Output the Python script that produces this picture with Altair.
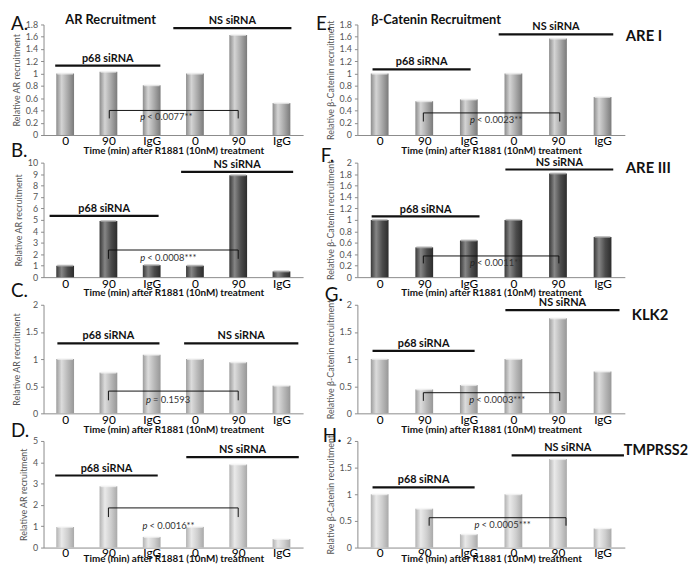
import altair as alt
import pandas as pd

FONT = "Lato"
positions = [1, 2, 3, 4, 5, 6]
tick_labels = ["0", "90", "IgG", "0", "90", "IgG"]
group_names = ["p68 siRNA", "NS siRNA"]
x_title = "Time (min) after R1881 (10nM) treatment"
ar_title = "Relative AR recruitment"
bc_title = "Relative β-Catenin recruitment"

# relative recruitment (p68 siRNA: 0, 90, IgG | NS siRNA: 0, 90, IgG)
ar_A = [1.00, 1.03, 0.81, 1.00, 1.63, 0.52]
ar_B = [1.00, 4.90, 1.05, 1.00, 8.90, 0.50]
ar_C = [1.00, 0.75, 1.08, 1.00, 0.94, 0.51]
ar_D = [0.97, 2.88, 0.50, 0.97, 3.90, 0.40]
bc_E = [1.00, 0.55, 0.58, 1.00, 1.57, 0.62]
bc_F = [1.00, 0.52, 0.64, 1.00, 1.81, 0.70]
bc_G = [1.00, 0.44, 0.52, 1.00, 1.75, 0.77]
bc_H = [1.00, 0.73, 0.25, 1.00, 1.66, 0.36]

ticks_18 = [0, 0.2, 0.4, 0.6, 0.8, 1, 1.2, 1.4, 1.6, 1.8]
ticks_10 = [0, 1, 2, 3, 4, 5, 6, 7, 8, 9, 10]
ticks_2f = [0, 0.2, 0.4, 0.6, 0.8, 1, 1.2, 1.4, 1.6, 1.8, 2]
ticks_2 = [0, 0.5, 1, 1.5, 2]
ticks_5 = [0, 1, 2, 3, 4, 5]

# group over-lines: (height, x from, x to) in data units
p68_line = {"A": (1.13, 0.77, 3.20), "B": (5.35, 0.64, 3.16), "C": (1.29, 0.82, 3.18),
            "D": (3.38, 0.77, 3.14), "E": (1.07, 0.84, 3.04), "F": (1.06, 0.82, 3.24),
            "G": (1.15, 0.84, 3.13), "H": (1.13, 0.84, 3.13)}
ns_line = {"A": (1.74, 3.50, 6.23), "B": (9.20, 3.68, 6.27), "C": (1.29, 3.75, 6.39),
           "D": (4.24, 3.80, 6.40), "E": (1.64, 3.67, 6.24), "F": (1.88, 3.82, 6.24),
           "G": (1.90, 3.82, 6.38), "H": (1.73, 3.96, 6.48)}
# significance brackets: (top, leg bottom, x left, x right)
bracket = {"A": (0.40, 0.27, 2.02, 5.00), "B": (2.37, 1.60, 2.00, 5.00), "C": (0.41, 0.24, 2.00, 5.00),
           "D": (1.86, 1.43, 2.00, 5.00), "E": (0.36, 0.22, 1.98, 5.04), "F": (0.37, 0.24, 1.98, 5.02),
           "G": (0.38, 0.23, 1.98, 5.04), "H": (0.56, 0.41, 2.11, 5.18)}
p_label = {"A": (3.40, 0.30, "< 0.0077**"), "B": (3.45, 1.67, "< 0.0008***"), "C": (3.43, 0.24, "= 0.1593"),
           "D": (3.45, 1.00, "< 0.0016**"), "E": (3.67, 0.24, "< 0.0023**"), "F": (3.67, 0.24, "< 0.0011**"),
           "G": (3.70, 0.24, "< 0.0003***"), "H": (3.82, 0.43, "< 0.0005***")}

styles = {
    "light": (["#8c8c8c", "#d4d4d4", "#a8a8a8", "#7a7a7a"], "#efefef"),
    "dark": (["#383838", "#868686", "#4c4c4c", "#2c2c2c"], "#a8a8a8"),
    "stripe": (["#9c9c9c", "#dcdcdc", "#b8b8b8", "#979797"], "#f2f2f2"),
    "hatch": (["#b2b2b2", "#e9e9e9", "#cecece", "#a9a9a9"], "#f6f6f6"),
}

label_expr = "[" + ",".join("'%s'" % t for t in tick_labels) + "][datum.value - 1]"


def panel(key, vals, ymax, yticks, ytitle, style, w, h, letter_xy, title=None, gene=None, bottom=False):
    xaxis = alt.Axis(values=positions, labelExpr=label_expr, ticks=False, grid=False, title=x_title,
                     titleFont=FONT, titleFontSize=10, titleFontWeight="bold", titleColor="#111",
                     labelFont=FONT, labelFontSize=12, labelColor="#000",
                     labelPadding=0 if bottom else 1, titlePadding=-5 if bottom else -1,
                     domainColor="#8a8a8a")
    yaxis = alt.Axis(values=yticks, format="~r", grid=False, title=ytitle,
                     titleFont=FONT, titleFontSize=9, titleFontWeight="normal", titleColor="#555",
                     labelFont=FONT, labelFontSize=9, labelColor="#555", tickSize=3,
                     tickColor="#8a8a8a", domainColor="#8a8a8a", labelPadding=3, titlePadding=4)
    xs = alt.Scale(domain=[0.5, 6.5], nice=False, zero=False, padding=0)
    ys = alt.Scale(domain=[0, ymax], nice=False, padding=0)

    def X(f):
        return alt.X(f, scale=xs, axis=xaxis)

    def Y(f):
        return alt.Y(f, scale=ys, axis=yaxis)

    stops, cap = styles[style]
    grad = alt.Gradient(gradient="linear", x1=0, x2=1, y1=0, y2=0,
                        stops=[alt.GradientStop(offset=o, color=c) for o, c in zip([0, 0.3, 0.65, 1], stops)])
    bars_df = pd.DataFrame({"pos": positions, "val": vals})
    bars = alt.Chart(bars_df).mark_bar(size=18, color=grad).encode(x=X("pos:Q"), y=Y("val:Q"))
    caps = alt.Chart(bars_df).mark_tick(orient="horizontal", size=16, thickness=2, color=cap).encode(
        x=X("pos:Q"), y=Y("val:Q"))

    pl, nl = p68_line[key], ns_line[key]
    lines_df = pd.DataFrame({"g": group_names, "y": [pl[0], nl[0]], "x1": [pl[1], nl[1]],
                             "x2": [pl[2], nl[2]], "xm": [(pl[1] + pl[2]) / 2, (nl[1] + nl[2]) / 2]})
    glines = alt.Chart(lines_df).mark_rule(strokeWidth=2.2, color="#111").encode(
        x=X("x1:Q"), x2="x2:Q", y=Y("y:Q"))
    glabels = alt.Chart(lines_df).mark_text(font=FONT, fontSize=11, fontWeight="bold", color="#111",
                                            dy=-7, baseline="middle").encode(
        x=X("xm:Q"), y=Y("y:Q"), text="g:N")

    bt, bb, bl, br = bracket[key]
    br_df = pd.DataFrame({"x1": [bl], "x2": [br], "y": [bt]})
    legs_df = pd.DataFrame({"x": [bl, br], "y1": [bt, bt], "y2": [bb, bb]})
    bline = alt.Chart(br_df).mark_rule(strokeWidth=1, color="#111").encode(x=X("x1:Q"), x2="x2:Q", y=Y("y:Q"))
    blegs = alt.Chart(legs_df).mark_rule(strokeWidth=1, color="#111").encode(x=X("x:Q"), y=Y("y1:Q"), y2="y2:Q")

    px, py, ptxt = p_label[key]
    p_df = pd.DataFrame({"x": [px], "y": [py], "p": ["p"], "t": [ptxt]})
    half = len(ptxt) * 2.2
    pmark = alt.Chart(p_df).mark_text(font=FONT, fontSize=9.5, fontStyle="italic", color="#222", align="right",
                                      dx=-half - 2, baseline="middle").encode(x=X("x:Q"), y=Y("y:Q"), text="p:N")
    ptext = alt.Chart(p_df).mark_text(font=FONT, fontSize=9.5, color="#333", align="left",
                                      dx=-half, baseline="middle").encode(x=X("x:Q"), y=Y("y:Q"), text="t:N")

    layers = [bars, caps, glines, glabels, bline, blegs, pmark, ptext]

    let_df = pd.DataFrame({"t": [key + "."]})
    layers.append(alt.Chart(let_df).mark_text(font=FONT, fontSize=19, color="#111", align="left",
                                              baseline="middle").encode(
        x=alt.value(letter_xy[0]), y=alt.value(letter_xy[1]), text="t:N"))
    if title:
        t_df = pd.DataFrame({"t": [title[0]]})
        layers.append(alt.Chart(t_df).mark_text(font=FONT, fontSize=13, fontWeight="bold", color="#111",
                                                align="left", baseline="middle").encode(
            x=alt.value(title[1]), y=alt.value(-4), text="t:N"))
    if gene:
        g_df = pd.DataFrame({"t": [gene[0]]})
        layers.append(alt.Chart(g_df).mark_text(font=FONT, fontSize=gene[3], fontWeight="bold", color="#111",
                                                align="left", baseline="middle").encode(
            x=alt.value(gene[1]), y=alt.value(gene[2]), text="t:N"))
    return alt.layer(*layers).properties(width=w, height=h)


WL, WR = 263, 271
H = [112, 116, 110, 108]

panels = [
    panel("A", ar_A, 1.8, ticks_18, ar_title, "light", WL, H[0], (-33, 0), title=("AR Recruitment", 22)),
    panel("E", bc_E, 1.8, ticks_18, bc_title, "light", WR, H[0], (-42, 0),
          title=("β-Catenin Recruitment", 14), gene=("ARE I", 272, 12, 15)),
    panel("B", ar_B, 10, ticks_10, ar_title, "dark", WL, H[1], (-33, -12)),
    panel("F", bc_F, 2, ticks_2f, bc_title, "dark", WR, H[1], (-37, -7), gene=("ARE III", 272, 5, 15)),
    panel("C", ar_C, 2, ticks_2, ar_title, "stripe", WL, H[2], (-33, -14)),
    panel("G", bc_G, 2, ticks_2, bc_title, "stripe", WR, H[2], (-33, -10), gene=("KLK2", 278, 10, 15)),
    panel("D", ar_D, 5, ticks_5, ar_title, "hatch", WL, H[3], (-33, -10), bottom=True),
    panel("H", bc_H, 2, ticks_2, bc_title, "hatch", WR, H[3], (-35, -5), gene=("TMPRSS2", 270, 10, 14.5),
          bottom=True),
]

chart = alt.concat(*panels, columns=2, spacing={"row": 28, "column": 55}, bounds="flush", align="each").properties(
    padding={"top": 3, "left": 3, "right": 0, "bottom": 0}, background="white"
).configure_view(stroke=None)

chart.save("out.html", embed_options={"renderer": "svg", "actions": False})
